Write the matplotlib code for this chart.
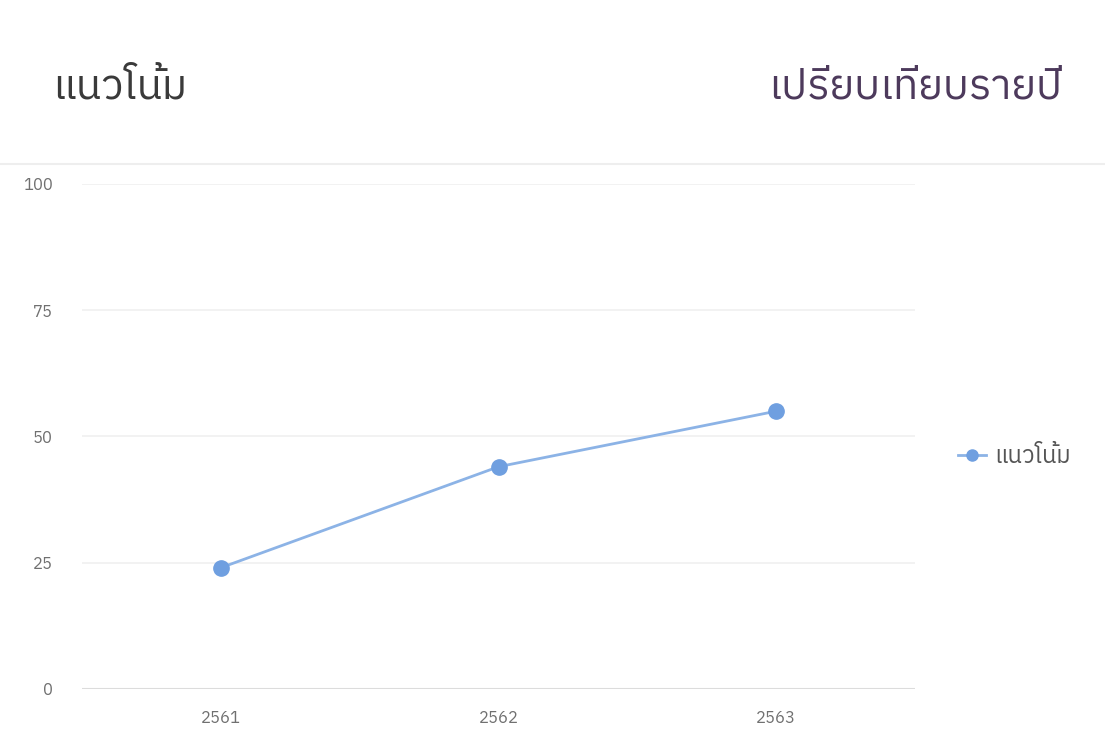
import matplotlib
matplotlib.use("Agg")
import matplotlib.pyplot as plt
import matplotlib.font_manager as fm
from matplotlib.ft2font import FT2Font
from matplotlib.lines import Line2D

years = ["2561", "2562", "2563"]
trend = [24, 44, 55]
y_ticks = [0, 25, 50, 75, 100]
title_left = "แนวโน้ม"
title_right = "เปรียบเทียบรายปี"
series_name = "แนวโน้ม"


def thai_fonts():
    # every installed family that has Thai glyphs
    names = []
    for f in fm.fontManager.ttflist:
        try:
            ft = FT2Font(f.fname)
            if ft.get_char_index(0x0E41) and ft.get_char_index(0x0E49):
                if f.name not in names:
                    names.append(f.name)
        except Exception:
            continue
    return names


found = thai_fonts()
# loopless faces look closer to the original
prefer = [n for n in found if "Thai" in n and "Looped" not in n and "UI" not in n]
prefer += [n for n in found if n not in prefer]
fams = prefer[:1] + ["DejaVu Sans"]
plt.rcParams["font.family"] = fams

fig = plt.figure(figsize=(11.05, 7.4), dpi=100)
ax = fig.add_axes([0.0742, 0.069, 0.754, 0.6825])

x = list(range(len(years)))
ax.plot(x, trend, color="#8cb3e6", linewidth=2, marker="o",
        markersize=11, markerfacecolor="#6f9fe0", markeredgecolor="#6f9fe0",
        zorder=3)

ax.set_xlim(-0.5, len(years) - 0.5)
ax.set_ylim(0, 100)
ax.set_yticks(y_ticks)
ax.set_xticks(x)
ax.set_xticklabels(years)
for yv in y_ticks[1:]:
    ax.axhline(yv, color="#f0f0f0", linewidth=1.2, zorder=0)
ax.axhline(0, color="#dcdcdc", linewidth=1.5, zorder=1)

for s in ax.spines.values():
    s.set_visible(False)
ax.tick_params(axis="both", length=0, labelsize=12, labelcolor="#707070")
ax.tick_params(axis="y", pad=21)
ax.tick_params(axis="x", pad=15)

# legend on the right
handle = Line2D([], [], color="#8cb3e6", linewidth=2, marker="o",
                markersize=8, markerfacecolor="#6f9fe0", markeredgecolor="#6f9fe0")
fig.legend([handle], [series_name], loc="center left",
           bbox_to_anchor=(0.867, 0.383), frameon=False,
           borderaxespad=0, borderpad=0,
           prop={"size": 17}, labelcolor="#555555",
           handlelength=1.2, handletextpad=0.35)

# header
fig.text(0.047, 0.882, title_left, fontsize=30, color="#3a3a3a", va="center")
fig.text(0.961, 0.882, title_right, fontsize=30, color="#4d3a5c",
         va="center", ha="right")
fig.add_artist(Line2D([0.0, 1.0], [0.778, 0.778], color="#eeeeee",
                      linewidth=1.5, transform=fig.transFigure))

fig.savefig("out.png", dpi=100, facecolor="white")
